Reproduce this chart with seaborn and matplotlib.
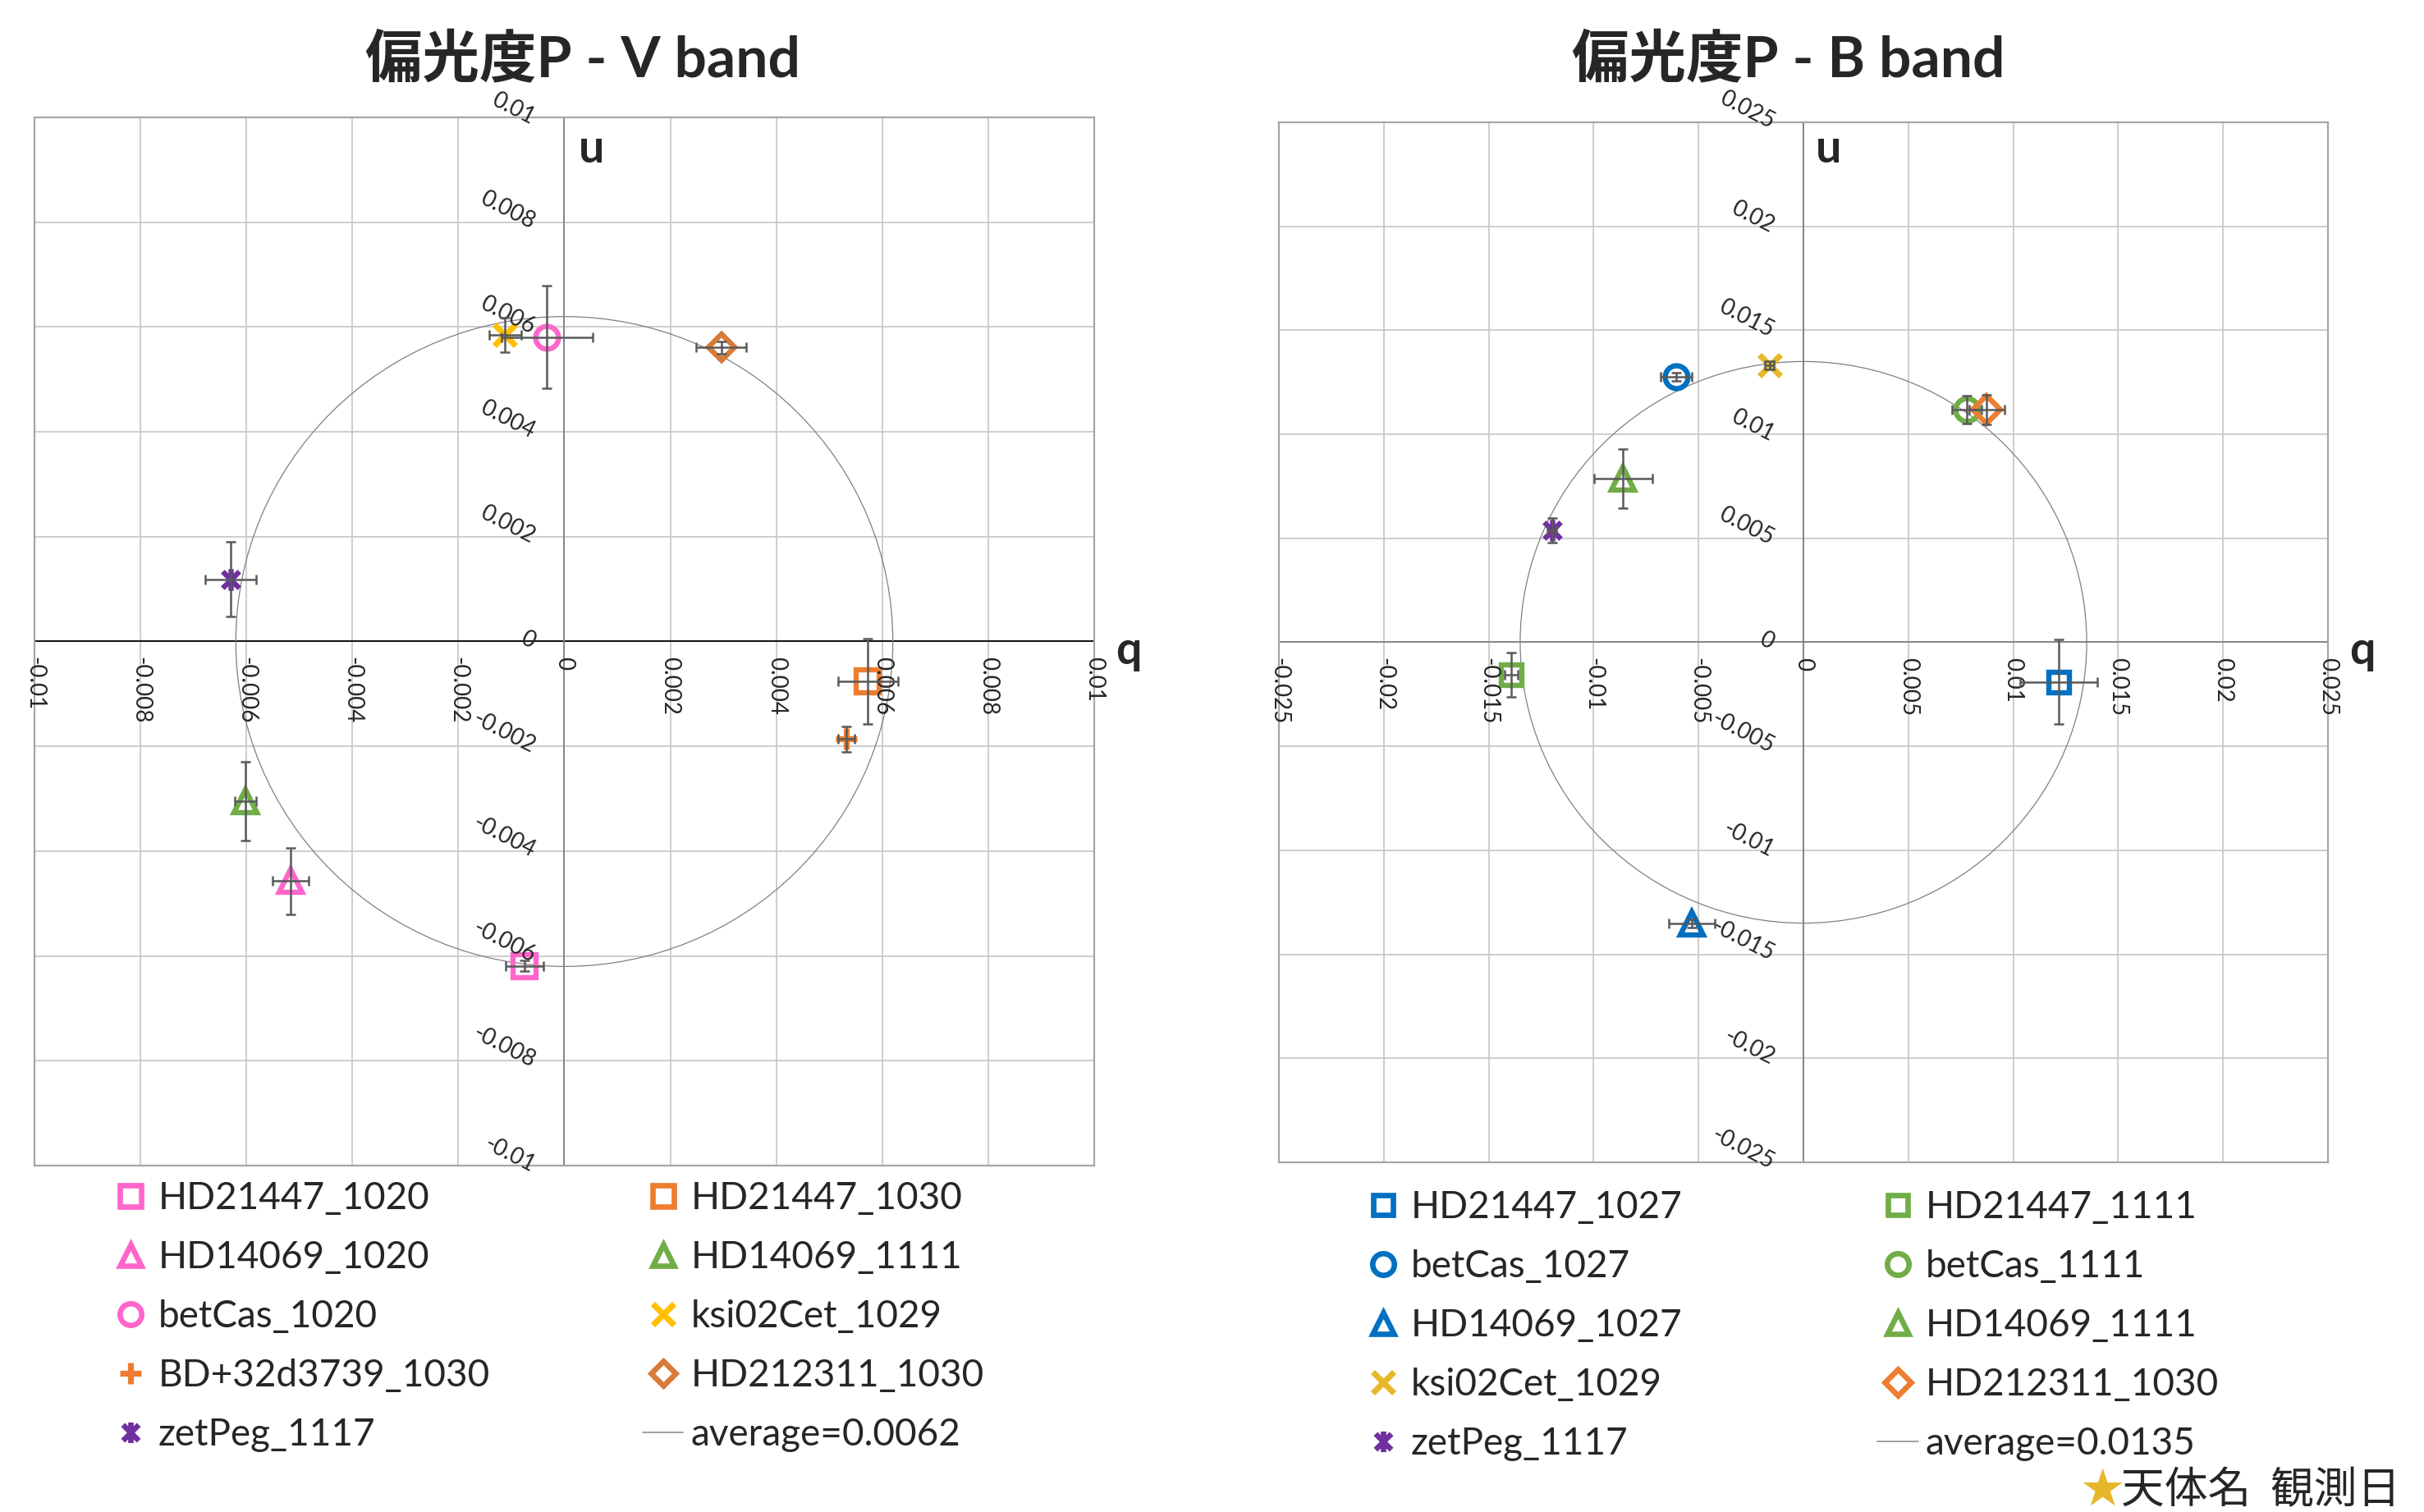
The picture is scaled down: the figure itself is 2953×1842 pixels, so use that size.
import numpy as np
import pandas as pd
import matplotlib.pyplot as plt
import seaborn as sns
from matplotlib.lines import Line2D
from matplotlib.patches import Circle
from matplotlib.path import Path
from matplotlib.transforms import offset_copy

# Datos V band (q, u y errores)
v_nombres = ['HD21447_1020', 'HD14069_1020', 'betCas_1020', 'BD+32d3739_1030', 'zetPeg_1117',
             'HD21447_1030', 'HD14069_1111', 'ksi02Cet_1029', 'HD212311_1030']
v_q = [-0.00075, -0.00517, -0.00033, 0.00532, -0.00629, 0.00573, -0.00602, -0.00112, 0.00296]
v_u = [-0.00619, -0.00457, 0.00581, -0.00186, 0.00119, -0.00076, -0.00305, 0.00585, 0.00561]
v_q_err = [0.00035, 0.00034, 0.00086, 0.00015, 0.00048, 0.00057, 0.0002, 0.0003, 0.00047]
v_u_err = [0.0001, 0.00063, 0.00098, 0.00024, 0.00071, 0.00081, 0.00075, 0.00033, 0.00012]
v_promedio = 0.0062
v_ticks = [-0.01, -0.008, -0.006, -0.004, -0.002, 0, 0.002, 0.004, 0.006, 0.008, 0.01]
v_etiquetas = ['-0.01', '-0.008', '-0.006', '-0.004', '-0.002', '0', '0.002', '0.004', '0.006', '0.008', '0.01']

# Datos B band
b_nombres = ['HD21447_1027', 'betCas_1027', 'HD14069_1027', 'ksi02Cet_1029', 'zetPeg_1117',
             'HD21447_1111', 'betCas_1111', 'HD14069_1111', 'HD212311_1030']
b_q = [0.01217, -0.00606, -0.00532, -0.00162, -0.01199, -0.01393, 0.00779, -0.0086, 0.00874]
b_u = [-0.0019, 0.01278, -0.01353, 0.01332, 0.00537, -0.00156, 0.01118, 0.00789, 0.01118]
b_q_err = [0.00185, 0.00073, 0.00111, 0.0002, 0.0002, 0.0003, 0.0007, 0.00139, 0.00083]
b_u_err = [0.00204, 0.0002, 0.0002, 0.0002, 0.00059, 0.00105, 0.00066, 0.00142, 0.00072]
b_promedio = 0.0135
b_ticks = [-0.025, -0.02, -0.015, -0.01, -0.005, 0, 0.005, 0.01, 0.015, 0.02, 0.025]
b_etiquetas = ['-0.025', '-0.02', '-0.015', '-0.01', '-0.005', '0', '0.005', '0.01', '0.015', '0.02', '0.025']

# Estilos: (marcador, color, tamaño)
v_estilos = [('s', '#FF66CC', 19.5), ('^', '#FF66CC', 20), ('o', '#FF66CC', 20), ('+', '#ED7D31', 19),
             ('star', '#7030A0', 19), ('s', '#ED7D31', 19.5), ('^', '#70AD47', 20), ('x', '#FFC000', 19),
             ('D', '#D87A38', 16)]
b_estilos = [('s', '#0070C0', 18), ('o', '#0070C0', 20), ('^', '#0070C0', 20), ('x', '#E6B829', 19),
             ('star', '#7030A0', 19), ('s', '#70AD47', 18), ('o', '#70AD47', 20), ('^', '#70AD47', 20),
             ('D', '#ED7D31', 17.5)]

sns.set_style('white')
plt.rcParams['font.family'] = ['Lato', 'Noto Sans CJK JP', 'DejaVu Sans']

# marcador estrella de Excel: X + línea vertical
estrella = Path([(-1, -1), (1, 1), (-1, 1), (1, -1), (0, -1.3), (0, 1.3)],
                [Path.MOVETO, Path.LINETO, Path.MOVETO, Path.LINETO, Path.MOVETO, Path.LINETO])


def forma(m):
    return estrella if m == 'star' else m


fig = plt.figure(figsize=(29.53, 18.42), dpi=100)


def dibujar_panel(rect, q, u, q_err, u_err, estilos, promedio, ticks, etiquetas, color_h):
    ax = fig.add_axes(rect)
    ax.set_xlim(ticks[0], ticks[-1])
    ax.set_ylim(ticks[0], ticks[-1])
    ax.set_xticks(ticks)
    ax.set_yticks(ticks)
    ax.tick_params(labelbottom=False, labelleft=False, length=0)
    ax.grid(True, color='#C9C9C9', lw=1.3)
    for s in ax.spines.values():
        s.set_color('#A6A6A6')
        s.set_linewidth(1.6)
    ax.axhline(0, color=color_h, lw=1.3, zorder=1.5)
    ax.axvline(0, color='#808080', lw=1.3, zorder=1.5)
    # círculo del promedio
    ax.add_patch(Circle((0, 0), promedio, fill=False, ec='#808080', lw=0.9, zorder=2))
    for i in range(len(q)):
        m, c, ms = estilos[i]
        mew = 5.2 if m in ('x', '+') else 4.6
        sns.lineplot(x=[q[i]], y=[u[i]], estimator=None, errorbar=None, ax=ax, linestyle='none',
                     marker=forma(m), markersize=ms, markeredgewidth=mew, markeredgecolor=c,
                     markerfacecolor='none', color=c, zorder=3)
        ax.errorbar(q[i], u[i], xerr=q_err[i], yerr=u_err[i], fmt='none', ecolor='#595959',
                    elinewidth=1.8, capsize=4.5, capthick=1.8, zorder=4)
    ax.set_xlabel('')
    ax.set_ylabel('')
    # etiquetas de los ejes sobre las líneas del cero
    for t, lab in zip(ticks, etiquetas):
        ax.text(t, 0, lab, rotation=270, ha='center', va='top', fontsize=20,
                transform=offset_copy(ax.transData, fig=fig, x=0, y=-13, units='points'))
        ax.text(0, t, lab, rotation=-27, rotation_mode='anchor', ha='right', va='center', fontsize=20,
                transform=offset_copy(ax.transData, fig=fig, x=-27, y=-1, units='points'))
    return ax


def leyenda(nombres, estilos, promedio, idx, x, y, con_promedio):
    handles, labels = [], []
    for i in idx:
        m, c, ms = estilos[i]
        mew = 5.2 if m in ('x', '+') else 4.8
        h = Line2D([], [], ls='none', marker=forma(m), color=c, mfc='none', mec=c, ms=ms * 0.95, mew=mew)
        handles.append(h)
        labels.append(nombres[i])
    if con_promedio:
        handles.append(Line2D([], [], color='#909090', lw=1.2))
        labels.append('average=' + str(promedio))
    fig.legend(handles, labels, loc='upper left', bbox_to_anchor=(x, y), frameon=False, fontsize=33,
               handlelength=1.08, handletextpad=0.2, labelspacing=0.655, borderpad=0, borderaxespad=0)


# 1. Panel V band
dibujar_panel([42 / 2953, 1 - 1420 / 1842, 1291 / 2953, 1277 / 1842], v_q, v_u, v_q_err, v_u_err,
              v_estilos, v_promedio, v_ticks, v_etiquetas, '#000000')
# 2. Panel B band
dibujar_panel([1558 / 2953, 1 - 1416 / 1842, 1278 / 2953, 1267 / 1842], b_q, b_u, b_q_err, b_u_err,
              b_estilos, b_promedio, b_ticks, b_etiquetas, '#808080')

# 3. Títulos y etiquetas
fig.text(710 / 2953, 1 - 73 / 1842, '偏光度P - V band', fontsize=50, fontweight='bold', ha='center', va='center')
fig.text(2179 / 2953, 1 - 73 / 1842, '偏光度P - B band', fontsize=50, fontweight='bold', ha='center', va='center')
for x, y, t in [(721, 182, 'u'), (1375, 793, 'q'), (2228, 182, 'u'), (2878, 793, 'q')]:
    fig.text(x / 2953, 1 - y / 1842, t, fontsize=40, fontweight='bold', ha='center', va='center')

# 4. Leyendas
leyenda(v_nombres, v_estilos, v_promedio, [0, 1, 2, 3, 4], 134 / 2953, 1 - 1439 / 1842, False)
leyenda(v_nombres, v_estilos, v_promedio, [5, 6, 7, 8], 783 / 2953, 1 - 1439 / 1842, True)
leyenda(b_nombres, b_estilos, b_promedio, [0, 1, 2, 3, 4], 1660 / 2953, 1 - 1450 / 1842, False)
leyenda(b_nombres, b_estilos, b_promedio, [5, 6, 7, 8], 2287 / 2953, 1 - 1450 / 1842, True)

fig.text(2561 / 2953, 1 - 1816 / 1842, '★', fontsize=37, color='#E6B829', ha='center', va='center',
         family=['Noto Sans CJK JP', 'DejaVu Sans'])
fig.text(2584 / 2953, 1 - 1816 / 1842, '天体名  観測日', fontsize=38, ha='left', va='center',
         family=['Noto Sans CJK JP', 'DejaVu Sans'])

plt.savefig('out.png', dpi=100)
